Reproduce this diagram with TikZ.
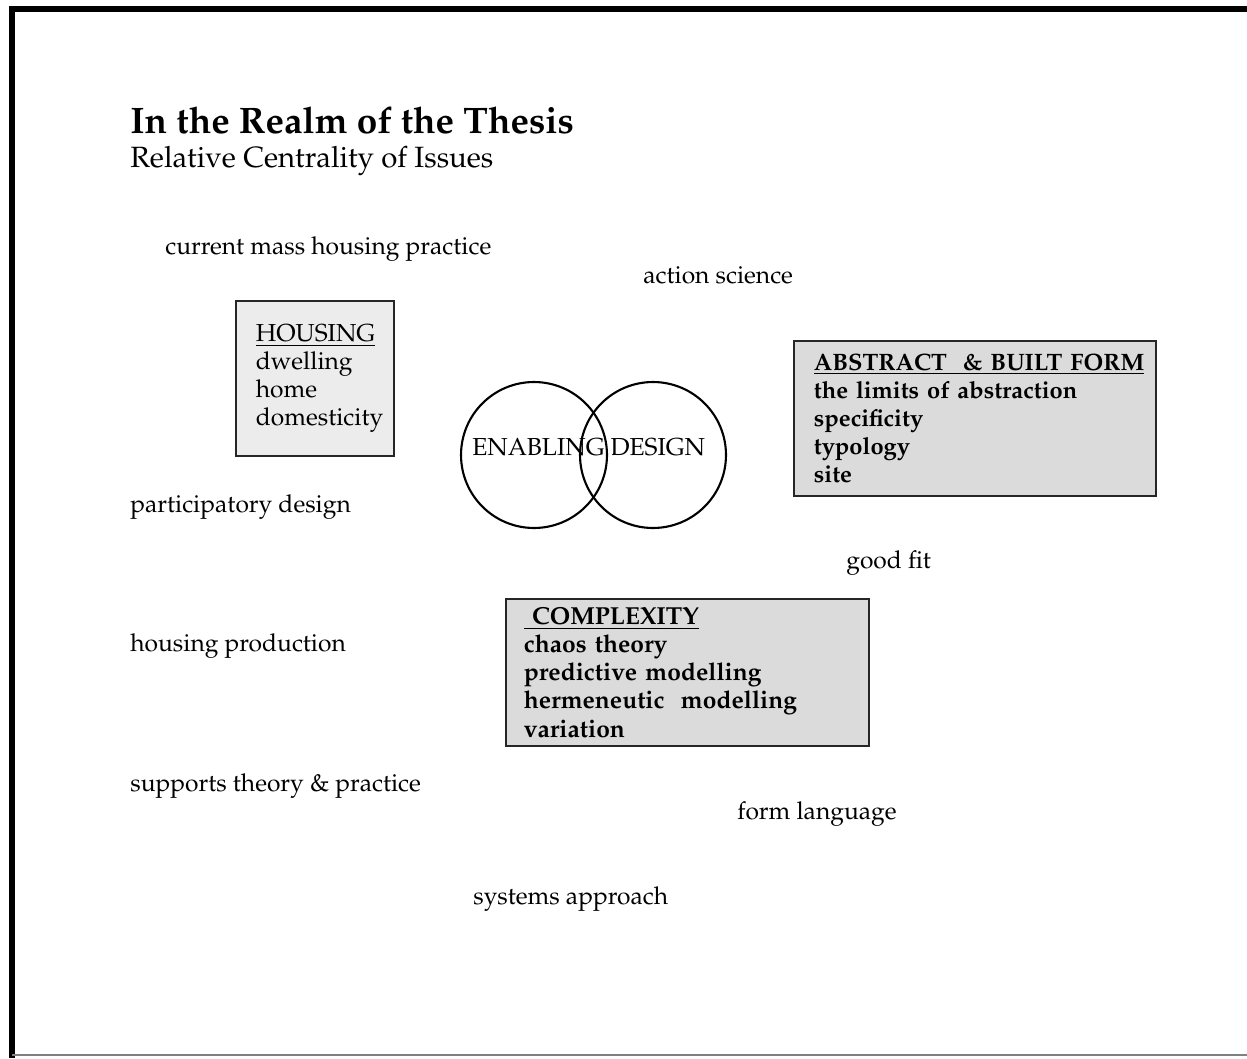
\documentclass[tikz,border=0pt]{standalone}
\usepackage[T1]{fontenc}
\usepackage{mathpazo}
\usetikzlibrary{positioning}
\tikzstyle{frameline} = [line width=3pt, black]
\tikzstyle{issue} = [anchor=base west, inner sep=0pt, font=\fontsize{14}{16}\selectfont]
\tikzstyle{themebox} = [rectangle, draw=black!85, line width=1pt, anchor=north west, align=left, inner ysep=0pt, font=\fontsize{14}{16}\selectfont]
\tikzstyle{venn} = [circle, draw=black, line width=1.2pt, minimum size=2.92cm, inner sep=0pt]

\begin{document}
\begin{tikzpicture}[x=0.02cm, y=-0.02cm]
\useasboundingbox (0,0) rectangle (1247,1058);
\fill[white] (0,0) rectangle (1247,1058);

% frame
\coordinate (ftr) at (1247,9);
\coordinate (ftl) at (12,9);
\coordinate (fbl) at (12,1058);
\draw [frameline] (ftr) -- (ftl) -- (fbl);
\draw [gray, line width=0.8pt] (12,1055) -- (1247,1055);

% heading
\node (title) [anchor=base west, inner sep=0pt, font=\fontsize{21}{24}\selectfont\bfseries] at (130,133) {In the Realm of the Thesis};
\node (subtitle) [anchor=base west, inner sep=0pt, font=\fontsize{16.7}{20}\selectfont] at (130,167) {Relative Centrality of Issues};

% boxes
\node (housing) [themebox, fill=gray!15, text width=2.36cm, inner xsep=0.4cm, minimum height=3.1cm] at (235,300) {\underline{HOUSING}\\dwelling\\home\\domesticity};
\node (abstract) [themebox, fill=gray!28, text width=6.44cm, inner xsep=0.4cm, minimum height=3.1cm, font=\fontsize{13.5}{16}\selectfont\bfseries] at (793,340) {\underline{ABSTRACT\ \ \& BUILT FORM}\\the limits of abstraction\\specificity\\typology\\site};
\node (complexity) [themebox, fill=gray!28, text width=6.54cm, inner xsep=0.36cm, minimum height=2.94cm, font=\fontsize{14}{16}\selectfont\bfseries] at (505,598) {\underline{\ COMPLEXITY}\\chaos theory\\predictive modelling\\hermeneutic\ \ modelling\\variation};

% venn
\node (enabling) [venn] at (534,455) {};
\node (design) [venn] at (653,455) {};
\node (vennlabel) [issue] at (472,455) {ENABLING DESIGN};

% issues
\node (massh) [issue] at (165,254) {current mass housing practice};
\node (action) [issue] at (643,283) {action science};
\node (particip) [issue] at (130,512) {participatory design};
\node (goodfit) [issue] at (846,568) {good fit};
\node (prod) [issue] at (130,651) {housing production};
\node (supports) [issue] at (130,791) {supports theory \& practice};
\node (formlang) [issue] at (737,819) {form language};
\node (systems) [issue] at (473,904) {systems approach};

\end{tikzpicture}
\end{document}
